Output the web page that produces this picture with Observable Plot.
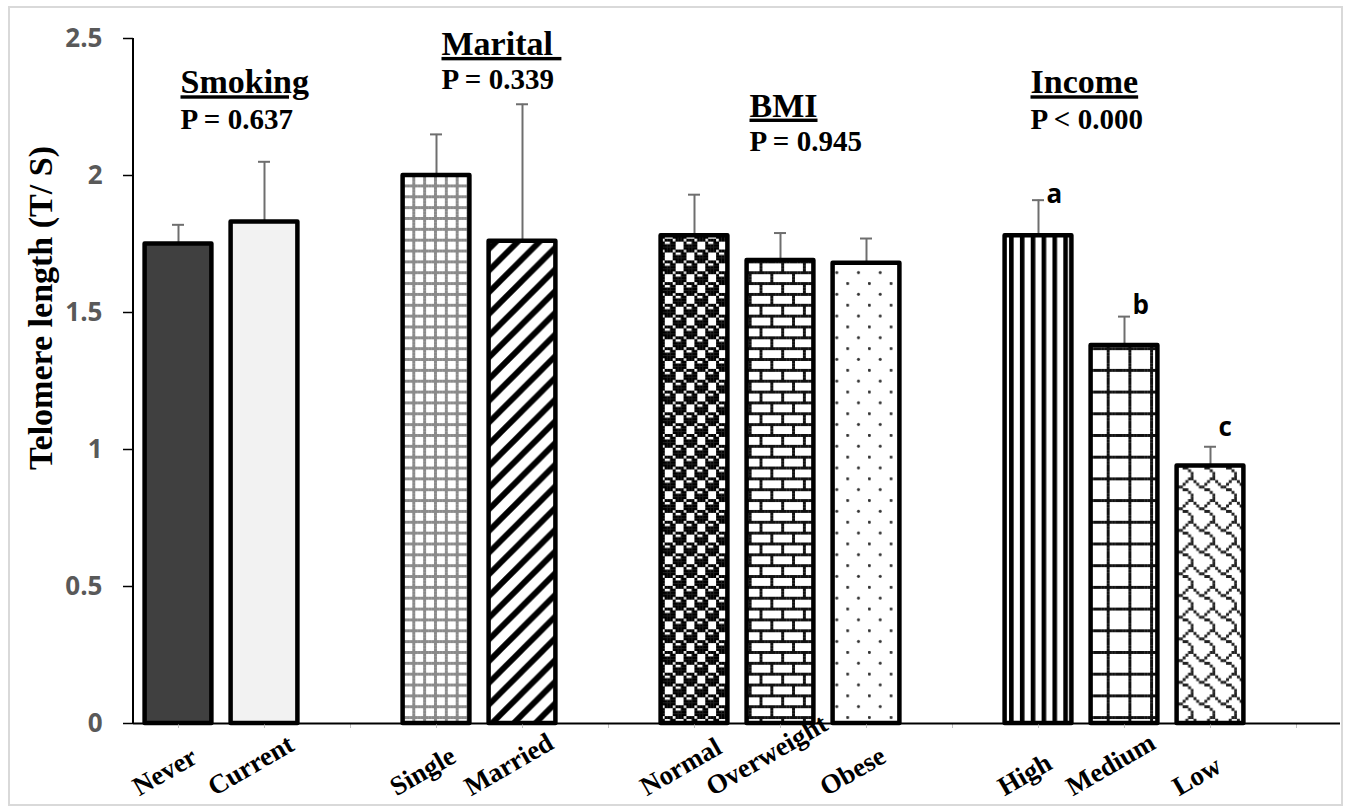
<!DOCTYPE html>
<html>
<head>
<meta charset="utf-8">
<script src="https://cdn.jsdelivr.net/npm/d3@7"></script>
<script src="https://cdn.jsdelivr.net/npm/@observablehq/plot@0.6"></script>
<style>
html, body { margin: 0; padding: 0; background: #fff; }
#wrap { position: relative; width: 1348px; height: 811px; overflow: hidden; }
#frame { position: absolute; left: 8px; top: 6px; width: 1335px; height: 800px; border: 2px solid #d9d9d9; box-sizing: border-box; pointer-events: none; }
</style>
</head>
<body>
<div id="wrap"><div id="chart"></div><div id="frame"></div></div>
<script>
// ---------- data ----------
const categories = ["Never", "Current", "Single", "Married", "Normal", "Overweight", "Obese", "High", "Medium", "Low"];
const slots = ["Never", "Current", "gap1", "Single", "Married", "gap2", "Normal", "Overweight", "Obese", "gap3", "High", "Medium", "Low", "gap4"];
const means = [1.75, 1.83, 2.00, 1.76, 1.78, 1.69, 1.68, 1.78, 1.38, 0.94];
const errors = [0.07, 0.22, 0.15, 0.50, 0.15, 0.10, 0.09, 0.13, 0.105, 0.07];
const yTicks = [0, 0.5, 1, 1.5, 2, 2.5];
const groupNames = ["Smoking", "Marital\u00a0", "BMI", "Income"];
const groupP = ["P = 0.637", "P = 0.339", "P = 0.945", "P < 0.000"];
const groupFirst = ["Never", "Single", "Normal", "High"];
const groupTitleY = [2.30, 2.44, 2.215, 2.30];
const groupPY = [2.17, 2.315, 2.09, 2.17];
const sigCats = ["High", "Medium", "Low"];
const sigLetters = ["a", "b", "c"];
const sigY = [1.90, 1.496, 1.051];
const yLabel = "Telomere length (T/ S)";

// ---------- styles ----------
const fills = {
  Never: "#404040", Current: "#f2f2f2", Single: "url(#pSmallGrid)", Married: "url(#pDiag)",
  Normal: "url(#pSphere)", Overweight: "url(#pBrick)", Obese: "url(#pDots)",
  High: "url(#pVert)", Medium: "url(#pGrid)", Low: "url(#pShingle)"
};
const titleDx = [2, 5, 55, -8];
const serif = "'Liberation Serif', 'Times New Roman', serif";
const sans = "'Open Sans', sans-serif";
const xLabelSize = 27, xLabelAngle = 30;

// ---------- patterns ----------
const K = 2.7125, T = 8 * K;
const defsSvg = d3.select("body").insert("svg", ":first-child")
  .attr("width", 0).attr("height", 0).style("position", "absolute");
const defs = defsSvg.append("defs");
function newPattern(id, w = T, h = T) {
  const p = defs.append("pattern").attr("id", id).attr("patternUnits", "userSpaceOnUse")
    .attr("width", w).attr("height", h);
  p.append("rect").attr("width", w).attr("height", h).attr("fill", "#fff");
  return p;
}
function bitsPattern(id, rows, color) {
  const p = newPattern(id);
  rows.forEach((r, y) => {
    for (let x = 0; x < 8; x++) if (r & (0x80 >> x))
      p.append("rect").attr("x", x * K).attr("y", y * K).attr("width", K + 0.25).attr("height", K + 0.25).attr("fill", color);
  });
}
bitsPattern("pSmallGrid", [0xff, 0x88, 0x88, 0x88, 0xff, 0x88, 0x88, 0x88], "#8a8a8a");
bitsPattern("pGrid", [0xff, 0x80, 0x80, 0x80, 0x80, 0x80, 0x80, 0x80], "#111");
bitsPattern("pBrick", [0xff, 0x80, 0x80, 0x80, 0xff, 0x08, 0x08, 0x08], "#111");
bitsPattern("pSphere", [0x77, 0x89, 0x8f, 0x8f, 0x77, 0x98, 0xf8, 0xf8], "#000");
bitsPattern("pShingle", [0x03, 0x84, 0x48, 0x30, 0x0c, 0x02, 0x01, 0x01], "#222");
{
  const p = newPattern("pDots");
  p.append("circle").attr("cx", 0.5 * K).attr("cy", 0.5 * K).attr("r", 1.5).attr("fill", "#333");
  p.append("circle").attr("cx", 4.5 * K).attr("cy", 4.5 * K).attr("r", 1.5).attr("fill", "#333");
}
{
  const p = newPattern("pDiag");
  p.append("path").attr("d", `M-5,${T + 5}L${T + 5},-5M-5,5L5,-5M${T - 5},${T + 5}L${T + 5},${T - 5}`)
    .attr("stroke", "#000").attr("stroke-width", 5.8);
}
{
  const p = newPattern("pVert", 4 * K, 4 * K);
  p.append("rect").attr("x", 0).attr("width", 4.6).attr("height", 4 * K).attr("fill", "#000");
}

// ---------- label layout: rotated labels centred on the tick, bottom-aligned ----------
const ctx = document.createElement("canvas").getContext("2d");
ctx.font = `bold ${xLabelSize}px ${serif}`;
const rad = xLabelAngle * Math.PI / 180, cs = Math.cos(rad), sn = Math.sin(rad);
const capH = 0.68 * xLabelSize;
function labelDx(t) {
  const w = ctx.measureText(t).width;
  return -14 - (w * cs - capH * sn) / 2;
}

// ---------- chart ----------
const rows = categories.map((c, i) => ({cat: c, mean: means[i], err: errors[i]}));
const groups = groupNames.map((n, i) => ({name: n, p: groupP[i], cat: groupFirst[i], ty: groupTitleY[i], py: groupPY[i]}));
const sig = sigCats.map((c, i) => ({cat: c, letter: sigLetters[i], y: sigY[i]}));

const yAxisLine = (index, scales, values, dims) => d3.create("svg:line")
  .attr("x1", dims.marginLeft)
  .attr("x2", dims.marginLeft)
  .attr("y1", scales.y(2.5)).attr("y2", scales.y(0) + 1)
  .attr("stroke", "#000").attr("stroke-width", 2).node();

const chart = Plot.plot({
  width: 1348,
  height: 811,
  marginLeft: 133,
  marginRight: 8,
  marginTop: 38,
  marginBottom: 88,
  style: {fontFamily: sans, background: "transparent"},
  x: {type: "band", domain: slots, padding: 0},
  y: {domain: [0, 2.5]},
  color: {type: "identity"},
  marks: [
    Plot.ruleX(rows, {x: "cat", y1: "mean", y2: d => d.mean + d.err, stroke: "#6e6e6e", strokeWidth: 2}),
    Plot.tickY(rows, {x: "cat", y: d => d.mean + d.err, stroke: "#6e6e6e", strokeWidth: 2, insetLeft: 37, insetRight: 37}),
    Plot.barY(rows, {x: "cat", y: "mean", fill: d => fills[d.cat], stroke: "#000", strokeWidth: 4.5,
      strokeLinejoin: "round", insetLeft: 9.6, insetRight: 9.6}),
    Plot.axisX({tickSize: 5, tickFormat: () => "", stroke: "#bfbfbf", label: null}),
    Plot.ruleY([0], {stroke: "#000", strokeWidth: 2}),
    yAxisLine,
    Plot.axisY({ticks: yTicks, tickFormat: d => String(d), tickSize: 10, tickPadding: 21, stroke: "#000",
      strokeWidth: 1.5, fill: "#595959", fontSize: 26, fontWeight: "bold", fontFamily: sans, label: null}),
    ...categories.map(c => Plot.text([c], {x: d => d, frameAnchor: "bottom", rotate: -xLabelAngle,
      dx: labelDx(c), dy: 73, textAnchor: "start", lineAnchor: "bottom",
      fontFamily: serif, fontWeight: "bold", fontSize: xLabelSize, fill: "#000"})),
    Plot.text([yLabel], {frameAnchor: "left", rotate: -90, dx: -92, dy: -73, textAnchor: "middle",
      lineAnchor: "middle", fontFamily: serif, fontWeight: "bold", fontSize: 34, fill: "#000"}),
    ...groups.map((g, i) => Plot.text([g], {x: "cat", y: "ty", text: "name", dx: titleDx[i], textAnchor: "start",
      lineAnchor: "bottom", fontFamily: serif, fontWeight: "bold", fontSize: 34, fill: "#000"})),
    ...groups.map((g, i) => Plot.text([g], {x: "cat", y: "py", text: "p", dx: titleDx[i], textAnchor: "start",
      lineAnchor: "bottom", fontFamily: serif, fontWeight: "bold", fontSize: 29, fill: "#000"})),
    Plot.text(sig, {x: "cat", y: "y", text: "letter", dx: 8, textAnchor: "start", lineAnchor: "bottom",
      fontFamily: sans, fontWeight: "bold", fontSize: 26, fill: "#000"})
  ]
});
// underline the group titles
d3.select(chart).selectAll("text")
  .filter(function() { return groupNames.includes(this.textContent); })
  .style("text-decoration", "underline")
  .style("text-decoration-thickness", "3px");
document.getElementById("chart").appendChild(chart);
</script>
</body>
</html>
